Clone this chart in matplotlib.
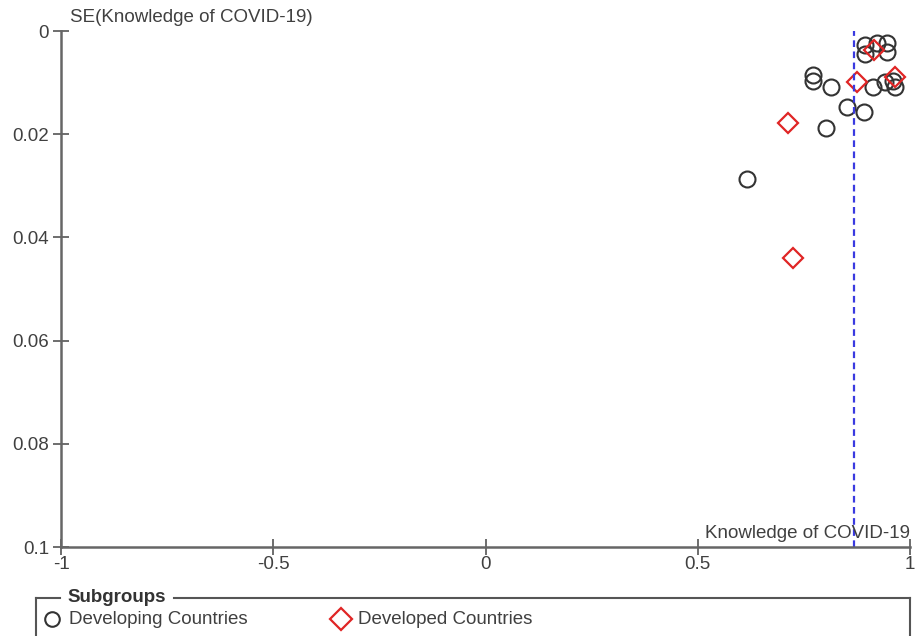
import matplotlib
matplotlib.use("Agg")
from matplotlib import pyplot as plt
from matplotlib.lines import Line2D

plt.rcParams['font.family'] = ['Liberation Sans', 'DejaVu Sans']

# effect size (x) and standard error (y)
developing_x = [0.894, 0.922, 0.946, 0.894, 0.946, 0.771, 0.771, 0.814,
                0.913, 0.941, 0.960, 0.965, 0.851, 0.892, 0.802, 0.616]
developing_se = [0.0027, 0.0023, 0.0023, 0.0044, 0.0041, 0.0085, 0.0097, 0.0108,
                 0.0108, 0.0099, 0.0097, 0.0108, 0.0147, 0.0157, 0.0188, 0.0286]
developed_x = [0.915, 0.875, 0.965, 0.712, 0.724]
developed_se = [0.0037, 0.0099, 0.0089, 0.0178, 0.0439]
pooled = 0.868

xticks = [-1, -0.5, 0, 0.5, 1]
xticklabels = ["-1", "-0.5", "0", "0.5", "1"]
yticks = [0, 0.02, 0.04, 0.06, 0.08, 0.1]
yticklabels = ["0", "0.02", "0.04", "0.06", "0.08", "0.1"]

W, H = 917, 636
fig = plt.figure(figsize=(W / 100, H / 100), dpi=100)

def px(x, y):
    return x / W, 1 - y / H

left, right, top, bottom = 61, 910, 31, 547
ax = fig.add_axes([left / W, 1 - bottom / H, (right - left) / W, (bottom - top) / H])

ax.plot(developing_x, developing_se, 'o', ms=11.5, mfc='none', mec='#333333', mew=1.5, clip_on=False)
ax.plot(developed_x, developed_se, 'D', ms=10, mfc='none', mec='#e02525', mew=1.6, clip_on=False)
ax.axvline(pooled, color='#3a3ae0', lw=1.6, ls=(0, (3, 2)))

ax.set_xlim(-1, 1)
ax.set_ylim(0.1, 0)
ax.set_xticks(xticks)
ax.set_xticklabels(xticklabels)
ax.set_yticks(yticks)
ax.set_yticklabels(yticklabels)

for s in ['top', 'right']:
    ax.spines[s].set_visible(False)
for s in ['left', 'bottom']:
    ax.spines[s].set_color('#666666')
    ax.spines[s].set_linewidth(1.8)
ax.tick_params(direction='inout', length=11, width=1.2, color='#555555',
               labelcolor='#404040', labelsize=13.5)
ax.tick_params(axis='y', pad=3)
ax.tick_params(axis='x', pad=1)

fig.text(*px(70, 18), "SE(Knowledge of COVID-19)", fontsize=13.5, color='#404040', va='center')
fig.text(*px(910, 533), "Knowledge of COVID-19", fontsize=13.5, color='#404040', va='center', ha='right')

# legend box drawn by hand, cut off by the bottom of the figure
lc = '#555555'
for xs, ys in [([36, 36], [598, 640]), ([36, 60], [598, 598]),
               ([174, 910], [598, 598]), ([910, 910], [598, 640])]:
    x0, y0 = px(xs[0], ys[0])
    x1, y1 = px(xs[1], ys[1])
    fig.add_artist(Line2D([x0, x1], [y0, y1], color=lc, lw=1.5, transform=fig.transFigure))
fig.text(*px(67, 597), "Subgroups", fontsize=13.5, fontweight='bold', color='#333333', va='center')
x0, y0 = px(52, 619)
fig.add_artist(Line2D([x0], [y0], marker='o', ms=10.5, mfc='none', mec='#333333', mew=1.5,
                      transform=fig.transFigure))
fig.text(*px(69, 619), "Developing Countries", fontsize=13.5, color='#404040', va='center')
x0, y0 = px(341, 619)
fig.add_artist(Line2D([x0], [y0], marker='D', ms=11, mfc='none', mec='#e02525', mew=1.6,
                      transform=fig.transFigure))
fig.text(*px(358, 619), "Developed Countries", fontsize=13.5, color='#404040', va='center')

fig.savefig("out.png", dpi=100)
